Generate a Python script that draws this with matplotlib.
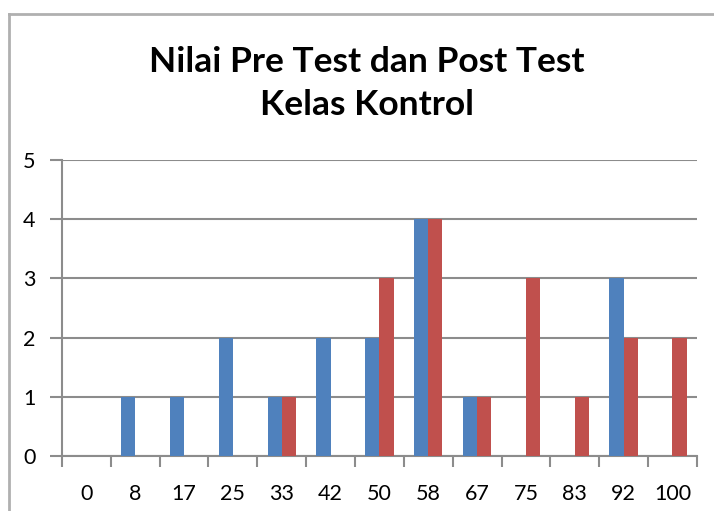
import numpy as np
import matplotlib.pyplot as plt
from matplotlib.lines import Line2D

categories = ['0', '8', '17', '25', '33', '42', '50', '58', '67', '75', '83', '92', '100']
pre_test = [0, 1, 1, 2, 1, 2, 2, 4, 1, 0, 0, 3, 0]
post_test = [0, 0, 0, 0, 1, 0, 3, 4, 1, 3, 1, 2, 2]

plt.rcParams['font.family'] = ['Lato', 'DejaVu Sans']

fig = plt.figure(figsize=(7.14, 5.11), dpi=100)
ax = fig.add_axes([0.0868, 0.1076, 0.8892, 0.5794])

x = np.arange(len(categories))
w = 0.29
ax.bar(x - w / 2, pre_test, w, color='#4F81BD', zorder=3)
ax.bar(x + w / 2, post_test, w, color='#C0504D', zorder=3)

ax.set_xlim(-0.5, len(categories) - 0.5)
ax.set_ylim(0, 5)
ax.set_yticks(range(6))
ax.yaxis.grid(True, color='#8c8c8c', linewidth=1.5, zorder=0)

ax.set_xticks(x)
ax.set_xticklabels(categories, fontsize=15.5)
ax.set_xticks(np.arange(-0.5, len(categories)), minor=True)
ax.tick_params(axis='x', which='major', length=0, pad=20)
ax.tick_params(axis='x', which='minor', length=8, width=1.5, color='#8c8c8c')
ax.tick_params(axis='y', length=9, width=1.5, color='#8c8c8c', labelsize=15.5, pad=10)

for s in ['top', 'right']:
    ax.spines[s].set_visible(False)
for s in ['left', 'bottom']:
    ax.spines[s].set_color('#8c8c8c')
    ax.spines[s].set_linewidth(1.5)

fig.text(0.514, 0.837, 'Nilai Pre Test dan Post Test\nKelas Kontrol',
         ha='center', va='center', fontsize=25.5, fontweight='bold',
         linespacing=1.42)

# outer chart border (only top and left visible)
fig.add_artist(Line2D([0.0126, 1.0], [0.9726, 0.9726], color='#b0b0b0', linewidth=2))
fig.add_artist(Line2D([0.0126, 0.0126], [0.0, 0.9726], color='#b0b0b0', linewidth=2))

fig.savefig('out.png', dpi=100)
